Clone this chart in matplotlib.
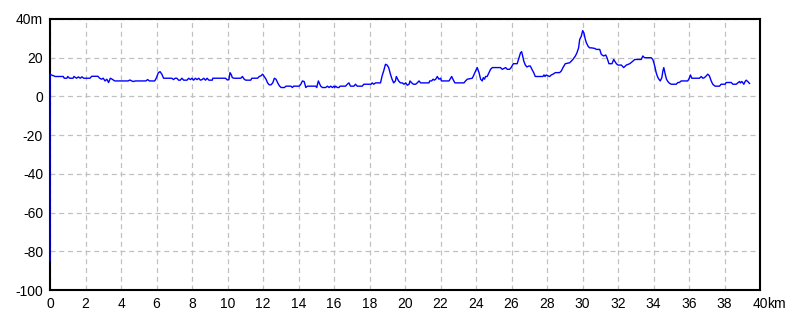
import matplotlib
matplotlib.use("Agg")
import matplotlib.pyplot as plt

distance_km = [
    0.0, 0.0, 0.1, 0.3, 0.75, 0.8, 0.95, 1.0, 1.1, 1.3, 1.35, 1.5, 1.6, 1.7, 1.8, 1.9, 2.25, 2.35, 2.7, 2.8,
    2.9, 3.0, 3.1, 3.2, 3.3, 3.4, 3.5, 3.65, 4.4, 4.5, 4.6, 4.7, 4.8, 5.4, 5.5, 5.6, 5.9, 6.0, 6.1, 6.2,
    6.3, 6.4, 6.6,
    6.86, 6.96, 7.05, 7.15, 7.24, 7.34, 7.43, 7.53, 7.72, 7.81, 7.91, 8.0, 8.09, 8.19, 8.28, 8.38, 8.47,
    8.57, 8.66, 8.76, 8.85, 8.95, 9.14, 9.17, 9.89, 9.99, 10.08, 10.14, 10.22, 10.27, 10.37, 10.75, 10.84,
    10.94, 11.03, 11.31, 11.37, 11.69, 11.79, 11.88, 11.98, 12.07, 12.17, 12.26, 12.35, 12.45, 12.55,
    12.64, 12.73, 12.83, 12.92, 13.02, 13.21,
    13.29, 13.57, 13.66, 13.72, 14.04, 14.13, 14.22, 14.32, 14.41, 14.50, 14.97, 15.03, 15.07, 15.12,
    15.20, 15.25, 15.35, 15.53, 15.63, 15.72, 15.81, 15.91, 16.0, 16.04, 16.09, 16.19, 16.28, 16.34,
    16.65, 16.75, 16.84, 16.93, 17.12, 17.21, 17.31, 17.59, 17.68, 17.96, 18.09, 18.15, 18.24, 18.34,
    18.62, 18.71, 18.80, 18.90, 18.99, 19.08, 19.18, 19.27, 19.36, 19.46, 19.51, 19.59, 19.64, 19.74,
    19.85, 19.94, 20.04, 20.13, 20.23, 20.28, 20.38, 20.47, 20.60, 20.69, 20.79, 20.88, 21.35, 21.39,
    21.50, 21.58, 21.65, 21.73, 21.82, 21.91, 22.01, 22.05, 22.48, 22.57, 22.63, 22.70, 22.81, 23.32,
    23.41, 23.51, 23.79, 23.88, 23.98, 24.07, 24.17, 24.26, 24.35, 24.41, 24.48, 24.54, 24.63, 24.73,
    24.82, 24.92, 25.38, 25.48, 25.67, 25.76, 25.89, 25.98, 26.10, 26.32, 26.42, 26.51, 26.57,
    26.61, 26.69, 26.78, 26.87, 26.97, 27.06, 27.15, 27.25, 27.34, 27.77, 27.83, 27.89, 27.96, 28.06,
    28.15, 28.24, 28.34, 28.47, 28.71, 28.81, 28.90, 29.03, 29.28, 29.46, 29.60, 29.69, 29.78, 29.84,
    29.93, 30.01, 30.08, 30.16, 30.22, 30.31, 30.40, 30.50, 30.69, 30.78, 30.97, 31.06, 31.19, 31.31,
    31.38, 31.49, 31.66, 31.76, 31.81, 31.91, 32.0, 32.19, 32.32, 32.47, 32.66, 32.85, 32.94, 33.22,
    33.31, 33.40, 33.49, 33.87, 33.96, 34.02, 34.09, 34.15, 34.21, 34.28, 34.38, 34.47, 34.53, 34.58,
    34.66, 34.73, 34.81, 34.90, 35.0, 35.28, 35.37, 35.46, 35.56, 35.93, 36.03, 36.08, 36.16, 36.59,
    36.69, 36.78, 36.87, 36.97, 37.06, 37.15, 37.25, 37.34, 37.47, 37.72, 37.81, 38.04, 38.09, 38.38,
    38.47, 38.66, 38.75, 38.85, 38.90, 38.98, 39.09, 39.16, 39.22, 39.31, 39.41,
]

elevation_m = [
    -85, 11.5, 11.0, 10.3, 10.3, 9.4, 9.4, 10.3, 9.4, 9.4, 10.3, 9.4, 10.1, 9.4, 10.1, 9.4, 9.4, 10.4, 10.4, 9.4,
    8.9, 9.4, 8.0, 8.9, 7.2, 9.4, 8.9, 8.0, 8.0, 8.5, 8.0, 7.7, 8.0, 8.0, 8.7, 8.0, 8.0, 9.7, 12.2, 12.8,
    11.5, 9.4, 9.4,
    9.4, 8.7, 9.4, 9.4, 8.4, 8.4, 9.4, 8.4, 8.4, 9.4, 8.7, 9.4, 8.4, 9.4, 8.7, 9.4, 8.4,
    8.7, 9.4, 8.4, 9.4, 8.4, 8.4, 9.4, 9.4, 8.5, 8.7, 12.3, 11.1, 9.7, 9.4, 9.4, 10.3,
    8.9, 8.4, 8.4, 9.4, 9.4, 10.3, 10.6, 11.5, 10.3, 8.9, 7.0, 6.0, 6.0, 7.0,
    9.4, 8.9, 7.0, 5.5, 4.6, 4.6,
    5.3, 5.3, 4.6, 5.3, 5.3, 6.3, 8.0, 7.7, 4.6, 5.3, 5.3, 4.6, 6.3, 8.0,
    6.3, 5.3, 4.6, 4.6, 5.3, 4.6, 5.3, 4.6, 5.3, 4.6, 5.3, 4.6, 4.6, 5.3,
    5.3, 6.3, 7.0, 5.3, 5.3, 6.3, 5.3, 5.3, 6.3, 6.3, 6.3, 7.0, 6.3, 7.0,
    7.0, 10.6, 13.2, 16.6, 16.2, 14.9, 11.5, 8.9, 7.0, 8.0, 10.3, 8.9, 8.0, 7.0,
    7.0, 6.3, 7.0, 5.8, 6.3, 8.0, 7.0, 6.3, 6.3, 7.0, 8.0, 7.0, 7.0, 8.0,
    8.0, 8.9, 8.4, 8.9, 10.3, 8.9, 9.4, 8.0, 8.0, 9.4, 10.3, 8.9, 7.0, 7.0,
    8.0, 8.9, 9.4, 11.1, 13.2, 14.9, 12.3, 8.9, 8.0, 9.7, 8.9, 10.3, 10.3, 12.3,
    14.0, 14.9, 14.9, 14.0, 14.9, 14.0, 14.0, 14.9, 16.9, 16.9, 20.0, 22.6, 23.1,
    21.7, 18.3, 16.2, 15.2, 15.7, 15.7, 14.0, 12.3, 10.3, 10.3, 11.1, 10.3, 11.1, 10.6,
    10.3, 11.1, 11.5, 12.3, 12.3, 13.2, 14.9, 16.9, 17.4, 19.1, 20.9, 22.6, 25.1, 29.4,
    31.1, 34.0, 32.8, 29.4, 27.7, 26.0, 25.1, 25.1, 24.8, 24.3, 24.3, 21.7, 20.9, 21.4,
    20.0, 16.9, 16.9, 19.1, 18.3, 16.9, 16.2, 16.2, 14.9, 16.2, 16.9, 18.3, 19.1, 19.1,
    19.1, 20.9, 20.0, 20.0, 19.1, 17.4, 14.9, 12.3, 10.6, 9.2, 8.0, 9.7, 13.2, 14.9,
    11.5, 8.9, 7.7, 6.8, 6.3, 6.3, 7.2, 7.2, 8.0, 8.0, 9.7, 11.1, 9.4, 9.4,
    10.3, 9.4, 9.7, 10.6, 11.5, 10.6, 8.0, 6.3, 5.3, 5.3, 6.3, 6.3, 7.2, 7.2,
    6.3, 6.3, 7.0, 7.7, 7.0, 7.7, 6.3, 7.7, 8.4, 7.7, 6.7,
]

x_ticks = list(range(0, 41, 2))
x_tick_labels = [str(v) for v in x_ticks]
y_ticks = [-100, -80, -60, -40, -20, 0, 20, 40]
y_tick_labels = ["-100", "-80", "-60", "-40", "-20", "0", "20", "40m"]

plt.rcParams['font.family'] = ['Liberation Sans Narrow', 'Liberation Sans', 'DejaVu Sans']

fig = plt.figure(figsize=(8, 3.2), dpi=100)
ax = fig.add_axes([50 / 800, 30 / 320, 710 / 800, 271 / 320])

ax.plot(distance_km, elevation_m, color='#0000ff', linewidth=1.0, zorder=3, clip_on=False)

ax.set_xlim(0, 40)
ax.set_ylim(-100, 40)
ax.set_xticks(x_ticks)
ax.set_xticklabels(x_tick_labels)
ax.set_yticks(y_ticks)
ax.set_yticklabels(y_tick_labels)
ax.tick_params(axis='both', length=0, labelsize=10, colors='black')
ax.tick_params(axis='x', pad=5)
ax.tick_params(axis='y', pad=5)

ax.annotate('km', xy=(40, -100), xycoords='data', xytext=(5, -5), textcoords='offset points',
            ha='left', va='top', fontsize=10)
ax.get_xticklabels()[-1].set_text('40')

ax.grid(True, color='#c0c0c0', linestyle=(0, (4, 3)), linewidth=0.9)
ax.set_axisbelow(True)
for s in ax.spines.values():
    s.set_linewidth(1.5)
    s.set_color('black')

fig.savefig('out.png', dpi=100)
